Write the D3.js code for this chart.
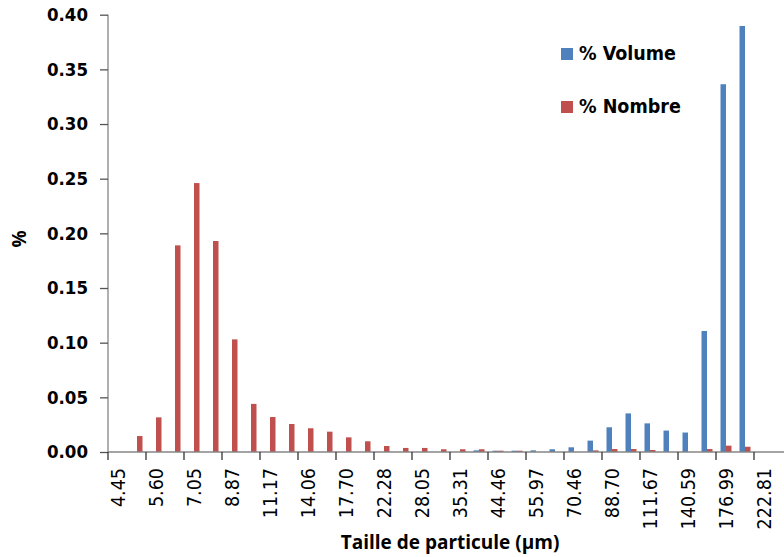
<!DOCTYPE html>
<html>
<head>
<meta charset="utf-8">
<script src="https://cdn.jsdelivr.net/npm/d3@7"></script>
<style>
  html, body { margin: 0; padding: 0; background: #fff; }
  svg { display: block; }
  .cond { font-family: "DejaVu Sans Condensed", "DejaVu Sans", sans-serif; font-stretch: condensed; }
</style>
</head>
<body>
<svg id="chart" width="784" height="557"></svg>
<script>
// ---- Data ----
const categories = ["4.45","4.99","5.60","6.28","7.05","7.91","8.87","9.95","11.17","12.53","14.06","15.78",
  "17.70","19.86","22.28","25.00","28.05","31.47","35.31","39.62","44.46","49.88","55.97","62.80",
  "70.46","79.06","88.70","99.52","111.67","125.30","140.59","157.74","176.99","198.58","222.81","250.00"];
const seriesNames = ["% Volume", "% Nombre"];
const volumeValues = [0,0,0,0,0,0,0,0,0,0,0,0,
  0,0,0,0,0,0,0,0.0015,0.0012,0.0012,0.0015,0.0025,
  0.0043,0.0104,0.0226,0.0353,0.0262,0.0196,0.0178,0.1107,0.3364,0.3897,0,0];
const nombreValues = [0,0.0146,0.0317,0.189,0.246,0.193,0.103,0.044,0.032,0.0256,0.0217,0.0186,
  0.0134,0.0098,0.0055,0.0037,0.0037,0.0025,0.0025,0.0025,0.0012,0.0012,0,0,
  0,0.0015,0.0027,0.0027,0.0018,0,0,0.0027,0.0058,0.0048,0,0];
const yTicks = [0,0.05,0.10,0.15,0.20,0.25,0.30,0.35,0.40];
const colors = ["#4F81BD", "#C0504D"];

// ---- Layout ----
const svg = d3.select("#chart");
const mLeft = 108, mRight = 792, mTop = 14.7, mBottom = 452;

const x = d3.scaleBand().domain(categories).range([mLeft, mRight]).paddingInner(0).paddingOuter(0);
const xs = d3.scaleBand().domain(seriesNames).range([0, x.bandwidth()]).paddingInner(0).paddingOuter(0.727);
const y = d3.scaleLinear().domain([0, 0.4]).range([mBottom, mTop]);
const color = d3.scaleOrdinal().domain(seriesNames).range(colors);

const rows = categories.map((c, i) => ({ cat: c, vals: [
  { s: seriesNames[0], v: volumeValues[i] },
  { s: seriesNames[1], v: nombreValues[i] }
]}));

// Bars
const g = svg.append("g");
g.selectAll("g.cat").data(rows).join("g")
  .attr("class", "cat")
  .attr("transform", d => `translate(${x(d.cat)},0)`)
  .selectAll("rect").data(d => d.vals.filter(e => e.v > 0)).join("rect")
  .attr("x", d => xs(d.s) + 0.5)
  .attr("width", xs.bandwidth())
  .attr("y", d => y(d.v))
  .attr("height", d => y(0) - y(d.v))
  .attr("fill", d => color(d.s));

// Y axis
const yAxis = d3.axisLeft(y).tickValues(yTicks).tickFormat(d3.format(".2f")).tickSize(8).tickPadding(12);
const ya = svg.append("g").attr("transform", `translate(${mLeft},0)`).call(yAxis);
ya.select(".domain").attr("stroke", "#868686").attr("stroke-width", 1.3).attr("d", `M0,${mTop}V${mBottom}`);
ya.selectAll(".tick line").attr("stroke", "#555").attr("stroke-width", 1.3);
ya.selectAll(".tick text").attr("class", "cond").style("font-size", "18.5px").style("font-weight", "bold").attr("fill", "#000");

// X axis (labels and ticks every other category)
const labeled = categories.filter((c, i) => i % 2 === 0);
const xa = svg.append("g").attr("transform", `translate(0,${mBottom})`);
xa.append("path").attr("d", `M${mLeft},0H${mRight}`).attr("stroke", "#868686").attr("stroke-width", 1.5).attr("fill", "none");
xa.selectAll("line.tk").data(labeled).join("line").attr("class", "tk")
  .attr("x1", d => x(d)).attr("x2", d => x(d)).attr("y1", 0).attr("y2", 8)
  .attr("stroke", "#333").attr("stroke-width", 1.3);
xa.selectAll("text.lbl").data(labeled).join("text").attr("class", "lbl cond")
  .attr("transform", d => `translate(${x(d) + x.bandwidth() / 2},16) rotate(-90)`)
  .attr("text-anchor", "end").attr("dy", "0.36em")
  .style("font-size", "19.5px").attr("fill", "#000")
  .text(d => d);

// Axis titles
svg.append("text").attr("x", 450).attr("y", 549).attr("text-anchor", "middle")
  .style("font-family", "'Open Sans', Lato, sans-serif").style("font-weight", "bold").style("font-size", "19px")
  .attr("fill", "#000").text("Taille de particule (µm)");
svg.append("text").attr("transform", "translate(26,239) rotate(-90)").attr("text-anchor", "middle")
  .style("font-family", "'Open Sans', Lato, sans-serif").style("font-weight", "bold").style("font-size", "19px")
  .attr("fill", "#000").text("%");

// Legend
const lg = svg.append("g").attr("transform", "translate(561,48)");
const li = lg.selectAll("g").data(seriesNames).join("g").attr("transform", (d, i) => `translate(0,${i * 53})`);
li.append("rect").attr("width", 12).attr("height", 12).attr("fill", d => color(d));
li.append("text").attr("class", "cond").attr("x", 18).attr("y", 12)
  .style("font-size", "19.5px").style("font-weight", "bold").attr("fill", "#000").text(d => d);
</script>
</body>
</html>
